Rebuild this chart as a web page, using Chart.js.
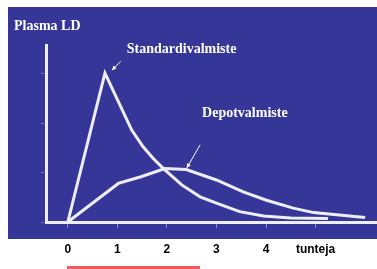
<!DOCTYPE html>
<html>
<head>
<meta charset="utf-8">
<script src="https://cdn.jsdelivr.net/npm/chart.js@4"></script>
<style>
  html, body { margin: 0; padding: 0; background: #ffffff; }
  #wrap { width: 377px; height: 269px; }
</style>
</head>
<body>
<div id="wrap"><canvas id="chart" width="377" height="269"></canvas></div>
<script>
// tunnit (x) ja pitoisuus (y)
const xTickValues = [0, 1, 2, 3, 4, 5];
const xTickLabels = ['0', '1', '2', '3', '4', 'tunteja'];
const yTickValues = [0, 1, 2, 3];

const standardHours = [0, 0.75, 1.29, 1.52, 1.72, 1.93, 2.30, 2.67, 3.00, 3.47, 3.95, 4.50, 5.25];
const standardLevel = [0, 3.01, 1.86, 1.52, 1.29, 1.08, 0.75, 0.51, 0.38, 0.21, 0.12, 0.08, 0.07];

const depotHours = [0, 1.02, 1.46, 1.96, 2.39, 3.00, 3.54, 4.01, 4.55, 4.96, 6.00];
const depotLevel = [0, 0.78, 0.91, 1.08, 1.06, 0.85, 0.61, 0.44, 0.28, 0.19, 0.09];

// merkinnät (teksti + nuoli) datakoordinaateissa
const annotations = [
    { text: 'Standardivalmiste', x: 1.19, y: 3.41, from: [1.07, 3.25], to: [0.89, 3.07] },
    { text: 'Depotvalmiste', x: 2.71, y: 2.12, from: [2.67, 1.56], to: [2.40, 1.09] }
];

const toPoints = (xs, ys) => xs.map((x, i) => ({ x: x, y: ys[i] }));

const lineColor = '#eeeef8';
const panelColor = '#363699';

// tausta, otsikko ja merkinnät
const decorPlugin = {
    id: 'decor',
    beforeDraw(chart) {
        const ctx = chart.ctx;
        ctx.save();
        ctx.fillStyle = panelColor;
        ctx.fillRect(8, 7, 369, 232);
        ctx.fillStyle = '#f05a5a';
        ctx.fillRect(67, 266, 133, 3);
        ctx.restore();
    },
    afterDraw(chart) {
        const ctx = chart.ctx;
        const xs = chart.scales.x;
        const ys = chart.scales.y;
        ctx.save();
        ctx.fillStyle = '#ffffff';
        ctx.strokeStyle = '#ffffff';
        ctx.font = 'bold 14px "Liberation Serif", "Times New Roman", serif';
        ctx.textBaseline = 'alphabetic';
        ctx.fillText('Plasma LD', 14, 30);

        annotations.forEach(a => {
            ctx.fillText(a.text, xs.getPixelForValue(a.x), ys.getPixelForValue(a.y));
            const x1 = xs.getPixelForValue(a.from[0]), y1 = ys.getPixelForValue(a.from[1]);
            const x2 = xs.getPixelForValue(a.to[0]), y2 = ys.getPixelForValue(a.to[1]);
            ctx.lineWidth = 1;
            ctx.beginPath();
            ctx.moveTo(x1, y1);
            ctx.lineTo(x2, y2);
            ctx.stroke();
            const ang = Math.atan2(y2 - y1, x2 - x1);
            const h = 5;
            ctx.beginPath();
            ctx.moveTo(x2, y2);
            ctx.lineTo(x2 - h * Math.cos(ang - 0.45), y2 - h * Math.sin(ang - 0.45));
            ctx.lineTo(x2 - h * Math.cos(ang + 0.45), y2 - h * Math.sin(ang + 0.45));
            ctx.closePath();
            ctx.fill();
        });
        ctx.restore();
    }
};

const ctx = document.getElementById('chart').getContext('2d');
const chart = new Chart(ctx, {
    type: 'line',
    data: {
        datasets: [
            {
                label: 'Standardivalmiste',
                data: toPoints(standardHours, standardLevel),
                borderColor: lineColor,
                borderWidth: 3,
                pointRadius: 0,
                tension: 0,
                fill: false
            },
            {
                label: 'Depotvalmiste',
                data: toPoints(depotHours, depotLevel),
                borderColor: lineColor,
                borderWidth: 3,
                pointRadius: 0,
                tension: 0,
                fill: false
            }
        ]
    },
    options: {
        responsive: false,
        animation: false,
        layout: {
            padding: { left: 41, top: 45, right: 0, bottom: 0 }
        },
        plugins: {
            legend: { display: false },
            tooltip: { enabled: false }
        },
        scales: {
            x: {
                type: 'linear',
                min: -0.44,
                max: 6.24,
                afterBuildTicks: scale => {
                    scale.ticks = xTickValues.map(v => ({ value: v }));
                },
                afterFit: scale => {
                    scale.height = 47;
                },
                grid: {
                    drawOnChartArea: false,
                    tickLength: 6,
                    color: 'rgba(190,190,230,0.6)',
                    lineWidth: 1
                },
                border: { color: lineColor, width: 3 },
                ticks: {
                    color: '#000000',
                    padding: 14,
                    maxRotation: 0,
                    autoSkip: false,
                    font: { family: '"Liberation Sans", Arial, sans-serif', size: 12, weight: 'bold' },
                    callback: (value) => {
                        const i = xTickValues.indexOf(value);
                        return i >= 0 ? xTickLabels[i] : '';
                    }
                }
            },
            y: {
                type: 'linear',
                min: 0,
                max: 3.58,
                afterBuildTicks: scale => {
                    scale.ticks = yTickValues.map(v => ({ value: v }));
                },
                grid: {
                    drawOnChartArea: false,
                    tickLength: 5,
                    color: 'rgba(190,190,230,0.4)',
                    lineWidth: 1
                },
                border: { color: lineColor, width: 3 },
                ticks: { display: false }
            }
        }
    },
    plugins: [decorPlugin]
});
</script>
</body>
</html>
